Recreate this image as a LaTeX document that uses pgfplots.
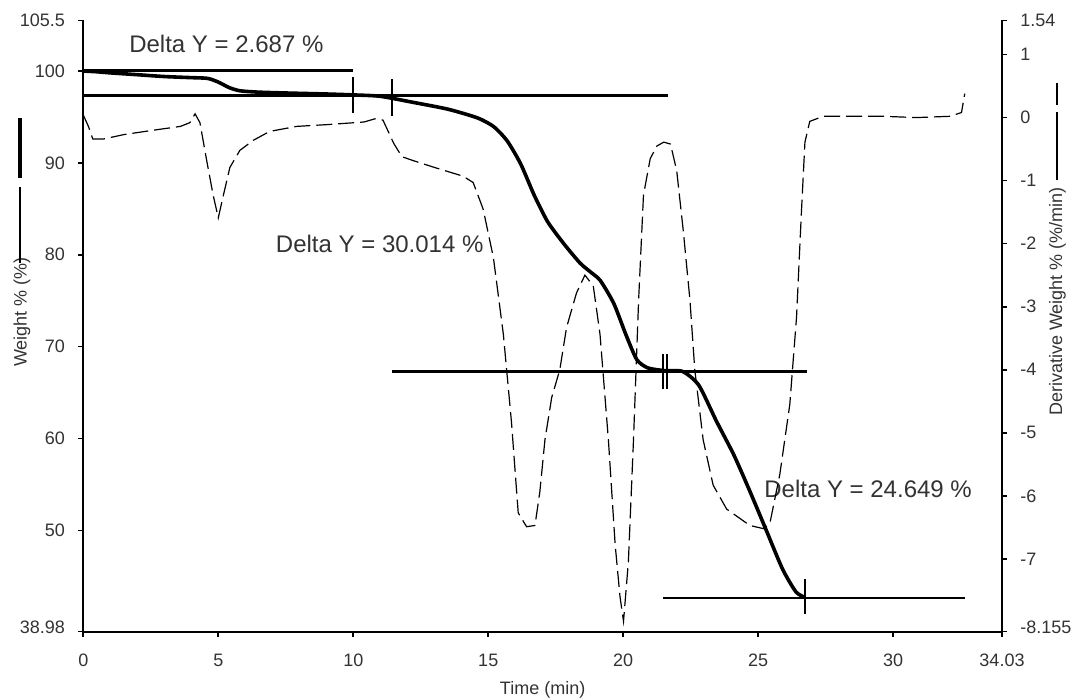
\documentclass[border=0pt]{standalone}
\usepackage{fontspec}
\setmainfont{Liberation Sans}
\usepackage{pgfplots}
\pgfplotsset{compat=1.18}

\pgfplotstableread{
t v
0.0 100.0
0.5 99.92
1.0 99.8
2.0 99.6
3.0 99.4
4.0 99.28
4.6 99.2
5.0 98.8
5.4 98.2
5.8 97.85
6.5 97.7
7.6 97.6
9.0 97.5
10.0 97.4
11.0 97.25
12.2 96.6
13.5 95.85
14.6 94.9
15.2 93.95
15.7 92.4
16.2 89.9
16.7 86.5
17.2 83.6
17.8 81.2
18.4 79.1
18.8 78.1
19.15 77.2
19.65 74.7
20.1 71.3
20.5 68.6
20.9 67.7
21.5 67.4
22.2 67.3
22.8 65.8
23.45 61.9
24.1 58.2
24.7 54.2
25.3 50.0
25.9 45.8
26.4 43.3
26.75 42.7
}\weight

\pgfplotstableread{
t d
0.0 0.04
0.2 -0.15
0.35 -0.34
0.75 -0.34
1.5 -0.27
2.6 -0.20
3.6 -0.14
3.95 -0.08
4.14 0.06
4.32 -0.08
4.57 -0.68
4.81 -1.23
5.0 -1.59
5.19 -1.23
5.43 -0.79
5.8 -0.52
6.3 -0.36
6.9 -0.22
7.9 -0.14
9.1 -0.11
10.4 -0.07
10.8 -0.02
11.1 -0.04
11.5 -0.41
11.8 -0.62
12.2 -0.68
13.0 -0.79
14.07 -0.93
14.44 -1.03
14.81 -1.45
15.19 -2.22
15.56 -3.44
15.86 -4.83
16.11 -6.27
16.42 -6.49
16.73 -6.47
16.91 -5.94
17.10 -5.11
17.35 -4.44
17.65 -4.0
17.9 -3.33
18.27 -2.78
18.58 -2.50
18.89 -2.67
19.14 -3.44
19.45 -5.11
19.70 -6.77
19.88 -7.60
20.01 -7.99
20.19 -7.05
20.38 -5.11
20.57 -2.89
20.75 -1.23
21.0 -0.65
21.25 -0.45
21.5 -0.39
21.75 -0.42
21.98 -0.84
22.22 -1.78
22.47 -2.89
22.65 -4.0
22.96 -5.11
23.33 -5.83
23.83 -6.21
24.69 -6.47
25.19 -6.52
25.43 -6.44
25.80 -5.66
26.17 -4.55
26.42 -3.16
26.60 -1.50
26.73 -0.39
26.91 -0.06
27.41 0.02
28.4 0.02
29.63 0.02
30.86 0.0
32.1 0.02
32.53 0.08
32.65 0.38
}\deriv

\begin{document}
\begin{tikzpicture}
\pgfplotsset{
  base/.style={
    scale only axis, width=459.35pt, height=305.6pt,
    xmin=0, xmax=34.03,
    axis line style={-, line width=1pt, black},
    tick style={line width=0.8pt, black},
    major tick length=2.5pt,
    tick align=outside,
    tick label style={font=\fontsize{9}{10}\selectfont, text=black!80},
    label style={font=\fontsize{9}{10}\selectfont, text=black!80},
    clip=false,
  }
}
\begin{axis}[base,
  axis x line*=bottom, axis y line*=left,
  ymin=38.98, ymax=105.5,
  xtick={0,5,10,15,20,25,30,34.03},
  xticklabels={0,5,10,15,20,25,30,34.03},
  ytick={38.98,50,60,70,80,90,100,105.5},
  yticklabels={\raisebox{4pt}{38.98},50,60,70,80,90,100,105.5},
  xticklabel style={anchor=north, inner sep=0pt},
  yticklabel style={anchor=east, inner sep=0pt},
  xticklabel shift=8.5pt,
  yticklabel shift=6.5pt,
  xlabel={Time (min)}, ylabel={Weight \% (\%)},
  xlabel style={at={(axis description cs:0.5,-0.0954)}, anchor=center},
  ylabel style={at={(axis description cs:-0.0667,0.523)}, anchor=center},
]
\addplot[black, line width=1.8pt, smooth, tension=0.4] table[x=t,y=v] {\weight};
\addplot[black, line width=1.45pt] coordinates {(0,100.02) (10,100.02)};
\addplot[black, line width=1.4pt] coordinates {(0,97.31) (21.65,97.31)};
\addplot[black, line width=1.4pt] coordinates {(11.42,67.30) (26.8,67.30)};
\addplot[black, line width=1.4pt] coordinates {(21.48,42.65) (32.65,42.65)};
\addplot[black, line width=0.9pt] coordinates {(10,99.3) (10,95.4)};
\addplot[black, line width=0.9pt] coordinates {(11.42,99.1) (11.42,95.1)};
\addplot[black, line width=0.9pt] coordinates {(21.46,69.2) (21.46,65.4)};
\addplot[black, line width=0.9pt] coordinates {(21.62,69.2) (21.62,65.4)};
\addplot[black, line width=0.9pt] coordinates {(26.73,44.7) (26.73,40.9)};
\node[font=\fontsize{12}{14}\selectfont, text=black!80, inner sep=0pt] at (axis cs:5.30,102.94) {Delta Y = 2.687 \%};
\node[font=\fontsize{12}{14}\selectfont, text=black!80, inner sep=0pt] at (axis cs:10.98,81.2) {Delta Y = 30.014 \%};
\node[font=\fontsize{12}{14}\selectfont, text=black!80, inner sep=0pt] at (axis cs:29.07,54.56) {Delta Y = 24.649 \%};
\end{axis}
\begin{axis}[base,
  axis x line=none, axis y line*=right,
  ymin=-8.155, ymax=1.54,
  ytick={-8.155,-7,-6,-5,-4,-3,-2,-1,0,1,1.54},
  yticklabels={\raisebox{4pt}{-8.155},-7,-6,-5,-4,-3,-2,-1,0,1,1.54},
  yticklabel style={anchor=west, inner sep=0pt},
  yticklabel shift=6.5pt,
  ylabel={Derivative Weight \% (\%/min)},
  ylabel style={at={(axis description cs:1.0604,0.5402)}, anchor=center},
]
\addplot[black, line width=0.6pt, dash pattern=on 8pt off 3pt] table[x=t,y=d] {\deriv};
\end{axis}
\draw[line width=1.6pt] (-31.65pt,226.85pt) -- (-31.65pt,256.85pt);
\draw[line width=0.6pt] (-31.65pt,184.35pt) -- (-31.65pt,222.35pt);
\draw[line width=0.6pt] (486.85pt,225.85pt) -- (486.85pt,259.85pt);
\draw[line width=0.6pt] (486.85pt,263.35pt) -- (486.85pt,274.35pt);
\pgfresetboundingbox
\path[use as bounding box] (-41.65pt,-34.15pt) rectangle (498.85pt,315.85pt);
\end{tikzpicture}
\end{document}
